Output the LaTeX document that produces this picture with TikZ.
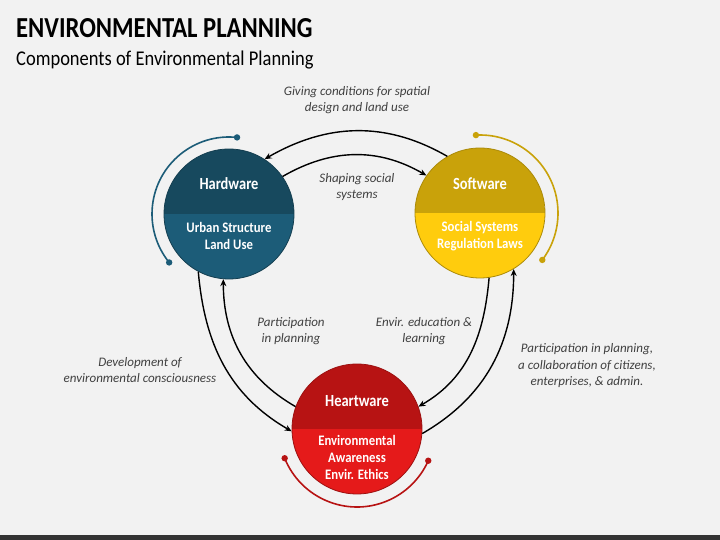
\documentclass[tikz,border=0pt]{standalone}
\usepackage{fontspec}
\setmainfont{Carlito}
\newfontfamily\narrowfont[FakeStretch=0.85]{Carlito}
\newfontfamily\semifont[FakeStretch=0.88]{Carlito}
\usetikzlibrary{arrows.meta}

\definecolor{bg}{HTML}{F2F2F2}
\definecolor{barGray}{HTML}{333333}
\definecolor{noteGray}{HTML}{404040}
\definecolor{hwTop}{HTML}{17495E}
\definecolor{hwBot}{HTML}{1C5C78}
\definecolor{swTop}{HTML}{C9A20A}
\definecolor{swBot}{HTML}{FFCC0D}
\definecolor{htTop}{HTML}{B71313}
\definecolor{htBot}{HTML}{E51A1A}

\tikzset{
  ring/.style n args={2}{circle, minimum size=130pt, inner sep=0pt,
    draw=#1!85!black, line width=0.8pt,
    path picture={
      \fill[#1] (path picture bounding box.north west) rectangle (path picture bounding box.east);
      \fill[#2] (path picture bounding box.west) rectangle (path picture bounding box.south east);
    }},
  ringtitle/.style={font=\narrowfont\bfseries\fontsize{17}{19}\selectfont, text=white},
  ringsub/.style={font=\semifont\bfseries\fontsize{14.5}{17}\selectfont, text=white, align=center},
  note/.style={font=\itshape\fontsize{13}{16.5}\selectfont, text=noteGray, align=center},
  flow/.style={line width=1.4pt, -{Stealth[length=7pt,width=6pt]}},
  orbit/.style={line width=1.6pt},
}

\begin{document}
\begin{tikzpicture}[x=1pt,y=1pt]
\fill[bg] (0,0) rectangle (720,540);
\useasboundingbox (0,0) rectangle (720,540);
\fill[barGray] (0,0) rectangle (720,5);

% titles
\node[anchor=base west, inner sep=0pt, font=\narrowfont\bfseries\fontsize{29}{32}\selectfont] (title) at (16,502) {ENVIRONMENTAL PLANNING};
\node[anchor=base west, inner sep=0pt, font=\semifont\fontsize{21}{24}\selectfont] (subtitle) at (16,474) {Components of Environmental Planning};

% the three components
\node[ring={hwTop}{hwBot}] (hw) at (229,326) {};
\node[ring={swTop}{swBot}] (sw) at (480,327) {};
\node[ring={htTop}{htBot}] (ht) at (357,111) {};

\node[ringtitle] (hwName) at (229,356) {Hardware};
\node[ringsub] (hwText) at (229,304.5) {Urban Structure\\Land Use};
\node[ringtitle] (swName) at (480,356) {Software};
\node[ringsub] (swText) at (480,304) {Social Systems\\Regulation Laws};
\node[ringtitle] (htName) at (357,139) {Heartware};
\node[ringsub] (htText) at (357,83) {Environmental\\Awareness\\Envir. Ethics};

% orbits
\draw[orbit, hwBot] ([shift={(84:77)}]hw.center) arc[start angle=84, end angle=219, radius=77];
\fill[hwBot] ([shift={(84:77)}]hw.center) circle (3.2) ([shift={(219:77)}]hw.center) circle (3.2);
\draw[orbit, swTop] ([shift={(93:78)}]sw.center) arc[start angle=93, end angle=-37, radius=78];
\fill[swTop] ([shift={(93:78)}]sw.center) circle (3.2) ([shift={(-37:78)}]sw.center) circle (3.2);
\draw[orbit, htTop] ([shift={(202:78)}]ht.center) arc[start angle=202, end angle=336, radius=78];
\fill[htTop] ([shift={(202:78)}]ht.center) circle (3.2) ([shift={(336:78)}]ht.center) circle (3.2);

% flows
\draw[flow] (sw.120) to[out=150, in=30] (hw.57);
\draw[flow] (hw.35) to[out=30, in=150] (sw.145);
\draw[flow] (hw.242) to[out=-85, in=150] (ht.182);
\draw[flow] (ht.160) to[out=150, in=-90] (hw.265);
\draw[flow] (sw.278) to[out=-95, in=30] (ht.20);
\draw[flow] (ht.356) to[out=30, in=-90] (sw.301);

% labels
\node[note] (giving) at (357,440) {Giving conditions for spatial\\design and land use};
\node[note] (shaping) at (357,353) {Shaping social\\systems};
\node[note] (partLeft) at (291,209) {Participation\\in planning};
\node[note] (develop) at (140,170) {Development of\\environmental consciousness};
\node[note] (educ) at (424,209) {Envir. education \&\\learning};
\node[note] (partRight) at (587,174) {Participation in planning,\\a collaboration of citizens,\\enterprises, \& admin.};
\end{tikzpicture}
\end{document}
